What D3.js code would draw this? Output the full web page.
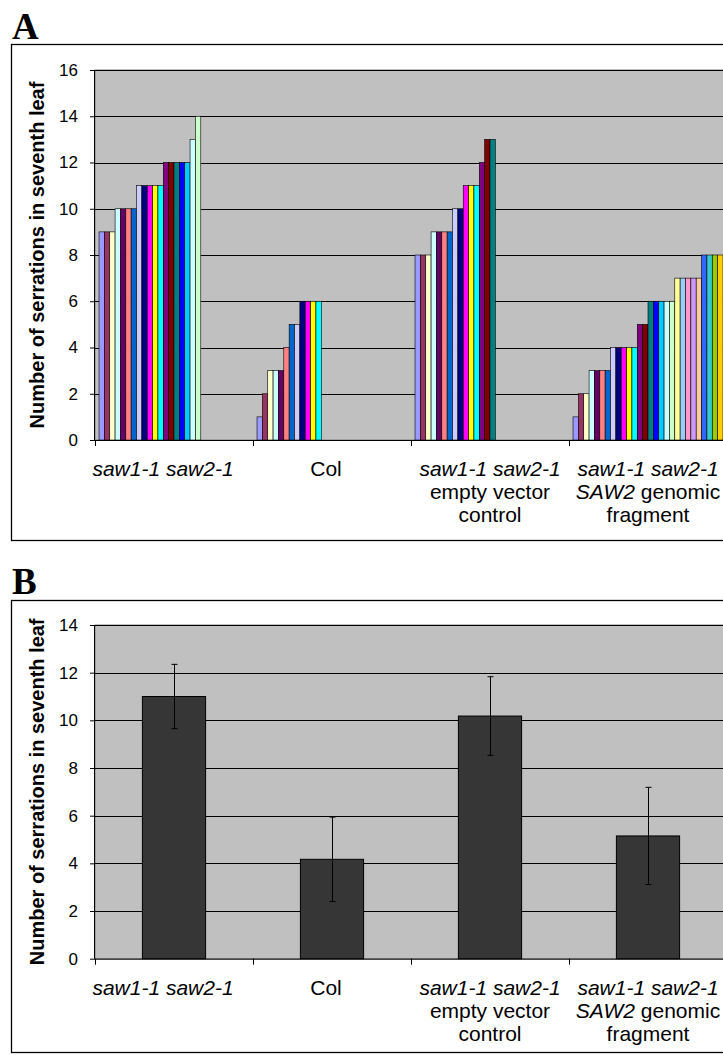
<!DOCTYPE html>
<html><head><meta charset="utf-8">
<script src="https://cdn.jsdelivr.net/npm/d3@7"></script>
<style>body{margin:0;background:#fff;overflow:hidden} svg{display:block}</style>
</head><body><svg id="c" width="723" height="1055"></svg>
<script>
// ---------------- data ----------------
const categories = ["saw1-1 saw2-1", "Col", "saw1-1 saw2-1 empty vector control", "saw1-1 saw2-1 SAW2 genomic fragment"];
// label lines: each line is a list of [text, italic]
const categoryLabelLines = [
  [[["saw1-1 saw2-1", true]]],
  [[["Col", false]]],
  [[["saw1-1 saw2-1", true]], [["empty vector", false]], [["control", false]]],
  [[["saw1-1 saw2-1", true]], [["SAW2", true], [" genomic", false]], [["fragment", false]]]
];
// Panel A: individual plants (one series slot per plant)
const sawValues          = [9,9,9,10,10,10,10,11,11,11,11,11,12,12,12,12,12,13,14];
const colValues          = [1,2,3,3,3,4,5,5,6,6,6,6];
const emptyVectorValues  = [8,8,8,9,9,9,9,10,10,11,11,11,12,13,13];
const genomicValues      = [1,2,2,3,3,3,3,4,4,4,4,4,5,5,6,6,6,6,6,7,7,7,7,7,8,8,8,8];
const seriesColors = ["#9999FF","#993366","#FFFFCC","#CCFFFF","#660066","#FF8080","#0066CC","#CCCCFF",
  "#000080","#FF00FF","#FFFF00","#00FFFF","#800080","#800000","#008080","#0000FF",
  "#00CCFF","#CCFFFF","#CCFFCC","#FFFF99","#99CCFF","#FF99CC","#CC99FF","#FFCC99",
  "#3366FF","#33CCCC","#99CC00","#FFCC00"];
const seriesCount = 28;
// Panel B: means and standard deviations
const meanValues = [11.0, 4.17, 10.18, 5.15];
const sdValues   = [1.35, 1.77, 1.65, 2.04];
const yTicksA = [0,2,4,6,8,10,12,14,16];
const yTicksB = [0,2,4,6,8,10,12,14];
const yTitle = "Number of serrations in seventh leaf";

// ---------------- layout ----------------
const svg = d3.select("#c");
const SANS = "'Liberation Sans', Arial, sans-serif";
const SERIF = "'Liberation Serif', 'Times New Roman', serif";
const plotLeft = 95, catWidth = 158;
const plotRight = plotLeft + catWidth * categories.length;
const labelShift = [-11, -6, 0, 0];

function panel(cfg) {
  const g = svg.append("g");
  // panel letter
  g.append("text").attr("x", 12).attr("y", cfg.letterY)
    .style("font-family", SERIF).style("font-weight", "bold").style("font-size", "37px")
    .text(cfg.letter);
  // frame
  g.append("rect").attr("x", 11.5).attr("y", cfg.frameTop)
    .attr("width", 900).attr("height", cfg.frameBottom - cfg.frameTop)
    .attr("fill", "none").attr("stroke", "#000").attr("stroke-width", 1.3);

  const y = d3.scaleLinear().domain(cfg.domain).range([cfg.plotBottom, cfg.plotTop]);
  const x0 = d3.scaleBand().domain(d3.range(categories.length)).range([plotLeft, plotRight]);

  // plot area
  g.append("rect").attr("x", plotLeft).attr("y", cfg.plotTop)
    .attr("width", plotRight - plotLeft).attr("height", cfg.plotBottom - cfg.plotTop)
    .attr("fill", "#C0C0C0").attr("stroke", "#808080").attr("stroke-width", 1);

  // gridlines
  g.append("g").selectAll("line").data(cfg.ticks.filter(t => t > 0)).join("line")
    .attr("x1", plotLeft).attr("x2", plotRight)
    .attr("y1", d => Math.round(y(d)) + 0.5).attr("y2", d => Math.round(y(d)) + 0.5)
    .attr("stroke", "#000").attr("stroke-width", 1);

  cfg.drawBars(g, x0, y);

  // y axis
  const ya = g.append("g").attr("transform", `translate(${plotLeft},0)`)
    .call(d3.axisLeft(y).tickValues(cfg.ticks).tickSize(5).tickPadding(12).tickFormat(d3.format("d")));
  ya.select(".domain").attr("stroke", "#000").attr("d", `M-0.5,${cfg.plotTop}V${cfg.plotBottom}`);
  ya.selectAll(".tick line").attr("stroke", "#000");
  ya.selectAll("text").style("font-family", SANS).style("font-size", "17px").attr("fill", "#000");

  // x axis
  const xa = g.append("g").attr("transform", `translate(0,${cfg.plotBottom})`);
  xa.append("line").attr("x1", plotLeft).attr("x2", plotRight).attr("y1", 0.5).attr("y2", 0.5).attr("stroke", "#000");
  xa.selectAll("line.tk").data(d3.range(categories.length + 1)).join("line").attr("class", "tk")
    .attr("x1", i => (i < categories.length ? x0(i) : plotRight) + 0.5)
    .attr("x2", i => (i < categories.length ? x0(i) : plotRight) + 0.5)
    .attr("y1", 0).attr("y2", 6).attr("stroke", "#000");
  const lbl = xa.selectAll("text.cat").data(d3.range(categories.length)).join("text").attr("class", "cat")
    .attr("text-anchor", "middle")
    .style("font-family", SANS).style("font-size", "21px").attr("fill", "#000");
  lbl.each(function(i) {
    const t = d3.select(this);
    categoryLabelLines[i].forEach((line, li) => {
      line.forEach((seg, si) => {
        const ts = t.append("tspan").text(seg[0]).style("font-style", seg[1] ? "italic" : "normal");
        if (si === 0) ts.attr("x", x0(i) + x0.bandwidth() / 2 + labelShift[i]).attr("y", 36 + li * 23);
      });
    });
  });

  // y title
  g.append("text")
    .attr("transform", `translate(44,${(cfg.plotTop + cfg.plotBottom) / 2}) rotate(-90)`)
    .attr("text-anchor", "middle")
    .style("font-family", SANS).style("font-weight", "bold").style("font-size", "20px")
    .text(yTitle);
}

// Panel A
panel({
  letter: "A", letterY: 39, frameTop: 44.5, frameBottom: 540.5,
  plotTop: 70, plotBottom: 440, domain: [0, 16], ticks: yTicksA,
  drawBars(g, x0, y) {
    const groups = [sawValues, colValues, emptyVectorValues, genomicValues];
    const x1 = d3.scaleBand().domain(d3.range(seriesCount)).range([0, x0.bandwidth()])
      .paddingInner(0).paddingOuter(0.75);
    groups.forEach((vals, ci) => {
      g.append("g").selectAll("rect").data(vals).join("rect")
        .attr("x", (d, si) => x0(ci) + x1(si))
        .attr("width", x1.bandwidth())
        .attr("y", d => y(d))
        .attr("height", d => y(0) - y(d))
        .attr("fill", (d, si) => seriesColors[si])
        .attr("stroke", "#000").attr("stroke-width", 0.6);
    });
  }
});

// Panel B
panel({
  letter: "B", letterY: 594, frameTop: 600.5, frameBottom: 1052.5,
  plotTop: 625, plotBottom: 958.7, domain: [0, 14], ticks: yTicksB,
  drawBars(g, x0, y) {
    const xb = d3.scaleBand().domain(d3.range(categories.length)).range([plotLeft, plotRight])
      .paddingInner(0.6).paddingOuter(0.3);
    g.append("g").selectAll("rect").data(meanValues).join("rect")
      .attr("x", (d, i) => xb(i)).attr("width", xb.bandwidth())
      .attr("y", d => y(d)).attr("height", d => y(0) - y(d))
      .attr("fill", "#363636").attr("stroke", "#000").attr("stroke-width", 1);
    const eb = g.append("g").attr("stroke", "#000").attr("stroke-width", 1);
    meanValues.forEach((m, i) => {
      const cx = Math.round(xb(i) + xb.bandwidth() / 2) + 0.5;
      eb.append("line").attr("x1", cx).attr("x2", cx).attr("y1", y(m + sdValues[i])).attr("y2", y(m - sdValues[i]));
      eb.append("line").attr("x1", cx - 3).attr("x2", cx + 3).attr("y1", y(m + sdValues[i])).attr("y2", y(m + sdValues[i]));
      eb.append("line").attr("x1", cx - 3).attr("x2", cx + 3).attr("y1", y(m - sdValues[i])).attr("y2", y(m - sdValues[i]));
    });
  }
});
</script></body></html>
